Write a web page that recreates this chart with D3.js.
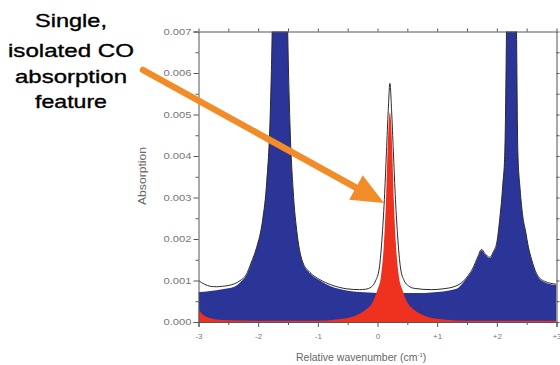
<!DOCTYPE html>
<html>
<head>
<meta charset="utf-8">
<style>
 body{ margin:0; background:#fff; }
 svg{ font-family: "Liberation Sans", Arial, sans-serif; background:#fff; }
 .axis path, .axis line{ stroke:#555; }
 .axis text{ fill:#777; }
</style>
</head>
<body>
<svg width="560" height="365"></svg>
<script src="https://cdn.jsdelivr.net/npm/d3@7/dist/d3.min.js"></script>
<script>
// x = relative wavenumber (cm-1), y = absorption
var blueSeries = [
  [-3.0,0.00072],[-2.8,0.00075],[-2.6,0.00079],[-2.4,0.00085],[-2.3,0.00096],[-2.2,0.00112],
  [-2.12,0.0014],[-2.025,0.0018],[-1.925,0.00246],[-1.855,0.0034],[-1.80,0.0049],[-1.765,0.007],
  [-1.735,0.0100],[-1.685,0.019],[-1.635,0.028],[-1.585,0.019],[-1.535,0.0099],[-1.505,0.007],
  [-1.468,0.0048],[-1.415,0.0032],[-1.345,0.0021],[-1.25,0.00142],[-1.135,0.00118],[-0.965,0.001],
  [-0.785,0.00086],[-0.515,0.00076],[-0.3,0.00072],[0.0,0.0007],[0.5,0.0007],[0.8,0.0007],
  [1.0,0.00072],[1.2,0.00076],[1.35,0.00082],[1.43,0.00094],[1.52,0.0011],[1.6,0.00128],
  [1.68,0.00155],[1.744,0.00173],[1.80,0.00163],[1.88,0.00154],[1.95,0.0017],[2.0,0.0019],
  [2.05,0.0025],[2.1,0.0033],[2.134,0.0041],[2.162,0.007],[2.2,0.013],[2.246,0.02],[2.29,0.013],
  [2.33,0.007],[2.352,0.0041],[2.39,0.0032],[2.435,0.00253],[2.48,0.0022],[2.53,0.0018],
  [2.58,0.0015],[2.665,0.00115],[2.8,0.00096],[3.0,0.00089]
];
var redSeries = [
  [-3.0,0.0003],[-2.95,0.00021],[-2.9,0.00015],[-2.8,0.00009],[-2.7,0.00006],[-2.5,0.00004],
  [-2.0,0.00003],[-1.0,0.00003],[-0.692,0.00006],[-0.392,0.00014],[-0.192,0.0003],[-0.092,0.00045],
  [-0.002,0.00077],[0.058,0.0011],[0.108,0.0019],[0.141,0.0029],[0.168,0.0041],[0.188,0.0048],
  [0.208,0.00505],[0.228,0.0048],[0.248,0.0041],[0.275,0.0029],[0.308,0.0019],[0.358,0.0011],
  [0.418,0.00077],[0.508,0.00045],[0.608,0.0003],[0.808,0.00014],[1.108,0.00006],[1.5,0.00003],
  [3.0,0.00003]
];
var totalSeries = [
  [-3.0,0.001],[-2.9,0.00091],[-2.8,0.00086],[-2.7,0.00085],[-2.6,0.00086],[-2.5,0.00088],
  [-2.4,0.00092],[-2.3,0.001],[-2.2,0.00114],[-2.12,0.00142],[-2.025,0.0018],[-1.925,0.00246],
  [-1.855,0.0034],[-1.80,0.0049],[-1.765,0.007],[-1.735,0.0100],[-1.685,0.019],[-1.635,0.028],
  [-1.585,0.019],[-1.535,0.0099],[-1.505,0.007],[-1.468,0.0048],[-1.415,0.0032],[-1.345,0.0021],
  [-1.25,0.00143],[-1.135,0.0012],[-0.965,0.00102],[-0.785,0.0009],[-0.515,0.0008],[-0.3,0.00078],
  [-0.2,0.00079],[-0.1,0.00085],[-0.03,0.001],[0.03,0.0013],[0.08,0.0021],[0.12,0.0031],
  [0.15,0.0041],[0.18,0.0051],[0.208,0.00575],[0.236,0.0051],[0.266,0.0041],[0.296,0.0031],
  [0.336,0.0021],[0.386,0.0013],[0.446,0.001],[0.52,0.00087],[0.62,0.00081],[0.9,0.00078],
  [1.1,0.0008],[1.3,0.00086],[1.43,0.00097],[1.52,0.00112],[1.6,0.0013],[1.68,0.00157],
  [1.744,0.00175],[1.80,0.00165],[1.88,0.00156],[1.95,0.00172],[2.0,0.00192],[2.05,0.0025],
  [2.1,0.0033],[2.134,0.0041],[2.162,0.007],[2.2,0.013],[2.246,0.02],[2.29,0.013],[2.33,0.007],
  [2.352,0.0041],[2.39,0.0032],[2.435,0.00255],[2.48,0.0022],[2.53,0.0018],[2.58,0.00152],
  [2.665,0.00117],[2.8,0.00098],[3.0,0.00091]
];
var xTicks = [-3,-2,-1,0,1,2,3];
var xTickLabels = ["-3","-2","-1","0","+1","+2","+3"];
var yTicks = [0,0.001,0.002,0.003,0.004,0.005,0.006,0.007];
var noteLines = ["Single,","isolated CO","absorption","feature"];

var svg = d3.select("svg");
var plotL = 198.5, plotR = 556.5, plotT = 31.5, plotB = 322;

var x = d3.scaleLinear().domain([-3,3]).range([plotL,plotR]);
var y = d3.scaleLinear().domain([0,0.007]).range([plotB,plotT]);

svg.append("clipPath").attr("id","plot")
   .append("rect").attr("x",plotL).attr("y",plotT).attr("width",plotR-plotL).attr("height",plotB-plotT);

var g = svg.append("g").attr("clip-path","url(#plot)");

var area = d3.area().curve(d3.curveMonotoneX)
   .x(function(d){ return x(d[0]); })
   .y0(y(0))
   .y1(function(d){ return y(d[1]); });
var line = d3.line().curve(d3.curveMonotoneX)
   .x(function(d){ return x(d[0]); })
   .y(function(d){ return y(d[1]); });

g.append("path").datum(blueSeries).attr("d",area).attr("fill","#2b3497");
g.append("path").datum(redSeries).attr("d",area).attr("fill","#ef3220");
g.append("path").datum(totalSeries).attr("d",line).attr("fill","none")
   .attr("stroke","#2a2a2a").attr("stroke-width",1);

// axes
var minorX = d3.range(-2.5,3,1);
var minorY = d3.range(0.0005,0.007,0.001);

var xAxis = svg.append("g").attr("class","axis")
   .attr("transform","translate(0,"+plotB+")")
   .call(d3.axisBottom(x).tickValues(xTicks).tickSize(5).tickPadding(6)
        .tickFormat(function(d,i){ return xTickLabels[i]; }));
xAxis.selectAll("text").style("font-size","8px");
svg.append("g").attr("class","axis").attr("transform","translate(0,"+plotB+")")
   .call(d3.axisBottom(x).tickValues(minorX).tickSize(3).tickFormat(""))
   .select(".domain").remove();

var yAxis = svg.append("g").attr("class","axis")
   .attr("transform","translate("+plotL+",0)")
   .call(d3.axisLeft(y).tickValues(yTicks).tickSize(5).tickPadding(2).tickFormat(d3.format(".3f")));
yAxis.selectAll("text").style("font-size","8.5px")
   .attr("textLength",28).attr("lengthAdjust","spacingAndGlyphs");
svg.append("g").attr("class","axis").attr("transform","translate("+plotL+",0)")
   .call(d3.axisLeft(y).tickValues(minorY).tickSize(3).tickFormat(""))
   .select(".domain").remove();

svg.append("g").attr("class","axis").attr("transform","translate(0,"+plotT+")")
   .call(d3.axisTop(x).tickValues(xTicks.concat(minorX)).tickSize(3).tickSizeOuter(0).tickFormat(""));
svg.append("g").attr("class","axis").attr("transform","translate("+plotR+",0)")
   .call(d3.axisRight(y).tickValues(yTicks.concat(minorY)).tickSize(3).tickSizeOuter(0).tickFormat(""));

// axis titles
svg.append("text")
   .attr("transform","translate(146,176) rotate(-90)")
   .attr("text-anchor","middle")
   .attr("textLength",58).attr("lengthAdjust","spacingAndGlyphs")
   .style("font-size","10px").style("fill","#666")
   .text("Absorption");
var xt = svg.append("text")
   .attr("x",296).attr("y",361)
   .style("font-size","10.5px").style("fill","#666");
xt.append("tspan").text("Relative wavenumber (cm");
xt.append("tspan").attr("dy",-4).style("font-size","6px").text("-1");
xt.append("tspan").attr("dy",4).text(")");

// annotation
var noteY = [27,57,83,108];
var noteW = [72,126,112,72];
svg.selectAll(".note").data(noteLines).enter().append("text")
   .attr("class","note")
   .attr("x",function(d,i){ return 71 - noteW[i]/2; })
   .attr("y",function(d,i){ return noteY[i]; })
   .attr("textLength",function(d,i){ return noteW[i]; })
   .attr("lengthAdjust","spacingAndGlyphs")
   .style("font-size","18.5px").style("fill","#000")
   .style("stroke","#000").style("stroke-width","0.35px")
   .text(function(d){ return d; });

// arrow
var ax0 = 143, ay0 = 70, ax1 = 384, ay1 = 203;
var ang = Math.atan2(ay1-ay0, ax1-ax0);
var headLen = 32, headW = 14;
var bx = ax1 - headLen*Math.cos(ang), by = ay1 - headLen*Math.sin(ang);
svg.append("line").attr("x1",ax0).attr("y1",ay0).attr("x2",bx).attr("y2",by)
   .attr("stroke","#f28c28").attr("stroke-width",6.5).attr("stroke-linecap","round");
svg.append("polygon")
   .attr("points",[
     [ax1,ay1],
     [bx - headW*Math.sin(ang), by + headW*Math.cos(ang)],
     [bx + headW*Math.sin(ang), by - headW*Math.cos(ang)]
   ].map(function(p){ return p.join(","); }).join(" "))
   .attr("fill","#f28c28");
</script>
</body>
</html>
